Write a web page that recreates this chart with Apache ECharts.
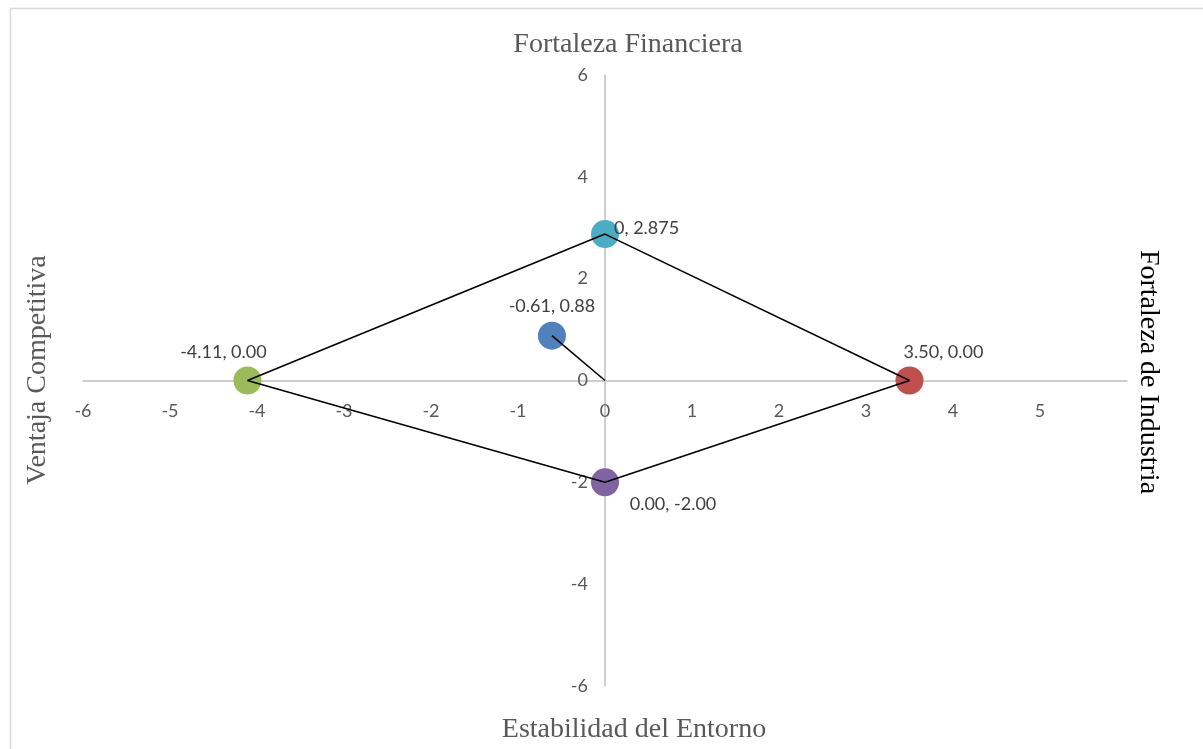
<!DOCTYPE html>
<html>
<head>
<meta charset="utf-8">
<script src="https://cdn.jsdelivr.net/npm/echarts@6/dist/echarts.min.js"></script>
<style>
  html, body { margin: 0; padding: 0; background: #ffffff; }
  #chart { width: 1203px; height: 749px; }
</style>
</head>
<body>
<div id="chart"></div>
<script>
// Strategic position points (x, y)
const pointNames = ['Ventaja Competitiva', 'Fortaleza Financiera', 'Fortaleza de Industria', 'Estabilidad del Entorno', 'Vector'];
const pointX = [-4.11, 0, 3.5, 0, -0.61];
const pointY = [0, 2.875, 0, -2, 0.88];
const pointLabels = ['-4.11, 0.00', '0, 2.875', '3.50, 0.00', '0.00, -2.00', '-0.61, 0.88'];
const pointColors = ['#9BBB59', '#4BACC6', '#C0504D', '#8064A2', '#4F81BD'];
const labelPositions = ['top', 'right', 'top', 'bottom', 'top'];

// Polygon outline order (indices into the points) and the vector from origin
const outlineOrder = [0, 1, 2, 3, 0];
const origin = [0, 0];
const vectorIndex = 4;

const outlineData = outlineOrder.map(i => [pointX[i], pointY[i]]);
const vectorData = [origin, [pointX[vectorIndex], pointY[vectorIndex]]];

const labelOffsets = [[-24, 0], [-10, -6], [34, 0], [68, -6], [0, -2]];

const scatterData = pointX.map((x, i) => ({
  value: [x, pointY[i]],
  itemStyle: { color: pointColors[i], opacity: 1 },
  label: {
    show: true,
    formatter: pointLabels[i],
    position: labelPositions[i],
    offset: labelOffsets[i]
  }
}));

const chart = echarts.init(document.getElementById('chart'), null, { renderer: 'canvas' });

const tickFont = { fontFamily: 'Lato', fontSize: 18, color: '#595959' };
const titleFont = '28px "Liberation Serif"';

// Plot box geometry, used to place the axes through the origin
const gridLeft = 83, gridRight = 76, gridTop = 75, gridBottom = 63;
const plotW = 1203 - gridLeft - gridRight;
const plotH = 749 - gridTop - gridBottom;

chart.setOption({
  animation: false,
  backgroundColor: '#ffffff',
  grid: { left: gridLeft, right: gridRight, top: gridTop, bottom: gridBottom, containLabel: false },
  xAxis: {
    type: 'value',
    min: -6, max: 6, interval: 1,
    position: 'bottom',
    offset: -plotH / 2,
    axisLine: { onZero: false, lineStyle: { color: '#BFBFBF', width: 1.5 } },
    axisTick: { show: false },
    splitLine: { show: false },
    axisLabel: Object.assign({ margin: 22, showMaxLabel: false }, tickFont)
  },
  yAxis: {
    type: 'value',
    min: -6, max: 6, interval: 2,
    position: 'left',
    offset: -plotW / 2,
    axisLine: { onZero: false, lineStyle: { color: '#BFBFBF', width: 1.5 } },
    axisTick: { show: false },
    splitLine: { show: false },
    axisLabel: Object.assign({ margin: 17 }, tickFont)
  },
  series: [
    {
      type: 'scatter',
      symbolSize: 28,
      z: 2,
      data: scatterData,
      label: { fontFamily: 'Lato', fontSize: 18, color: '#404040' }
    },
    {
      type: 'line',
      data: outlineData,
      symbol: 'none',
      z: 3,
      lineStyle: { color: '#000000', width: 1.6 }
    },
    {
      type: 'line',
      data: vectorData,
      symbol: 'none',
      z: 3,
      lineStyle: { color: '#000000', width: 1.6 }
    }
  ],
  graphic: [
    {
      type: 'rect',
      left: 8, top: 6,
      shape: { width: 1220, height: 760 },
      style: { fill: 'none', stroke: '#D9D9D9', lineWidth: 1.5 },
      silent: true
    },
    {
      type: 'text',
      x: 628, y: 45,
      style: { text: 'Fortaleza Financiera', font: titleFont, fill: '#595959', textAlign: 'center', textVerticalAlign: 'middle' }
    },
    {
      type: 'text',
      x: 634, y: 730,
      style: { text: 'Estabilidad del Entorno', font: titleFont, fill: '#595959', textAlign: 'center', textVerticalAlign: 'middle' }
    },
    {
      type: 'text',
      x: 38, y: 370, rotation: Math.PI / 2,
      style: { text: 'Ventaja Competitiva', font: titleFont, fill: '#595959', textAlign: 'center', textVerticalAlign: 'middle' }
    },
    {
      type: 'text',
      x: 1148, y: 372, rotation: -Math.PI / 2,
      style: { text: 'Fortaleza de Industria', font: titleFont, fill: '#000000', textAlign: 'center', textVerticalAlign: 'middle' }
    }
  ]
});
</script>
</body>
</html>
